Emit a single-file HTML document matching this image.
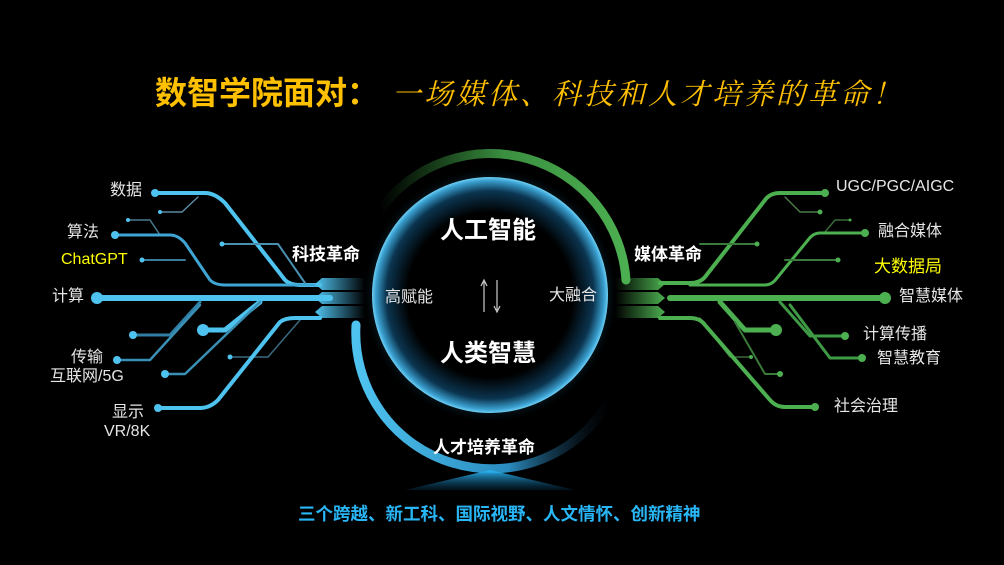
<!DOCTYPE html>
<html><head><meta charset="utf-8"><style>
html,body{margin:0;padding:0;background:#000;}
body{width:1004px;height:565px;overflow:hidden;position:relative;font-family:"Liberation Sans","Noto Sans CJK SC",sans-serif;}
.t{position:absolute;white-space:nowrap;color:#e6e6e6;font-size:16px;line-height:1;}
.y{color:#ffff00;}
.b{font-weight:bold;color:#fff;}
</style></head><body>
<svg width="1004" height="565" style="position:absolute;left:0;top:0">
<defs>
<radialGradient id="core" cx="50%" cy="50%" r="50%">
<stop offset="0.7" stop-color="#000"/>
<stop offset="0.88" stop-color="#0b3550"/>
<stop offset="0.97" stop-color="#3aa0d0"/>
<stop offset="1" stop-color="#6fd0f5"/>
</radialGradient>
<radialGradient id="halo" cx="50%" cy="50%" r="50%">
<stop offset="0.85" stop-color="#1a6a90" stop-opacity="0.6"/>
<stop offset="1" stop-color="#000" stop-opacity="0"/>
</radialGradient>
<linearGradient id="lfade" x1="0" x2="1"><stop offset="0" stop-color="#4fc3f0"/><stop offset="1" stop-color="#4fc3f0" stop-opacity="0"/></linearGradient>
<linearGradient id="rfade" x1="1" x2="0"><stop offset="0" stop-color="#4caf50"/><stop offset="1" stop-color="#4caf50" stop-opacity="0"/></linearGradient>
<linearGradient id="tri" x1="0" y1="0" x2="0" y2="1"><stop offset="0" stop-color="#29b6f6"/><stop offset="1" stop-color="#0a3a5a" stop-opacity="0.3"/></linearGradient>
<linearGradient id="garc" x1="0" y1="0" x2="1" y2="0"><stop offset="0" stop-color="#2e7d32" stop-opacity="0"/><stop offset="0.5" stop-color="#3a8f40"/><stop offset="1" stop-color="#4caf50"/></linearGradient>
<linearGradient id="barc" x1="0" y1="0" x2="1" y2="0"><stop offset="0" stop-color="#4fc3f0"/><stop offset="0.6" stop-color="#2a8cc0"/><stop offset="1" stop-color="#123" stop-opacity="0"/></linearGradient>
</defs>
<circle cx="490" cy="295" r="128" fill="url(#halo)"/>
<circle cx="490" cy="295" r="118" fill="url(#core)"/>
<path d="M380 210 A136 136 0 0 1 626 280" fill="none" stroke="url(#garc)" stroke-width="9" stroke-linecap="round"/>
<path d="M356 325 A136 136 0 0 0 610 400" fill="none" stroke="url(#barc)" stroke-width="9" stroke-linecap="round"/>
<g fill="none" stroke-linecap="round" stroke-linejoin="round">
<path d="M155 193 H205 Q215 193 225 203 L285 280 Q290 285 300 285 H320" stroke="#4fc3f0" stroke-width="4"/>
<path d="M160 212 H182 L198 197" stroke="#5a8aa0" stroke-width="1.5"/>
<path d="M128 220 H150 L160 235" stroke="#4a7a90" stroke-width="1.5"/>
<path d="M115 235 H170 Q178 235 185 243 L210 280 Q215 285 225 285 H320" stroke="#3fa5d5" stroke-width="3"/>
<path d="M142 260 H185" stroke="#3a7a9a" stroke-width="2"/>
<path d="M222 244 H278 L305 283" stroke="#4a8fb0" stroke-width="2"/>
<path d="M97 298 H330" stroke="#4fc3f0" stroke-width="6"/>
<path d="M133 335 H170 L200 302" stroke="#2f7fa5" stroke-width="3"/>
<path d="M117 360 H150 L200 305" stroke="#3a8fb5" stroke-width="2.5"/>
<path d="M203 330 H225 L260 302" stroke="#4fc3f0" stroke-width="5"/>
<path d="M165 374 H185 L260 302" stroke="#3a8fb5" stroke-width="2.5"/>
<path d="M230 357 H268 L300 320" stroke="#3a6a80" stroke-width="1.5"/>
<path d="M158 408 H200 Q210 408 218 400 L280 322 Q285 318 295 318 H320" stroke="#4fc3f0" stroke-width="4"/>
</g>
<g fill="#4fc3f0">
<circle cx="155" cy="193" r="4"/><circle cx="160" cy="212" r="2"/><circle cx="128" cy="220" r="2"/><circle cx="115" cy="235" r="4"/><circle cx="142" cy="260" r="2.5"/><circle cx="222" cy="244" r="2.5"/><circle cx="97" cy="298" r="6"/><circle cx="133" cy="335" r="4"/><circle cx="117" cy="360" r="4"/><circle cx="203" cy="330" r="6"/><circle cx="165" cy="374" r="4"/><circle cx="230" cy="357" r="2.5"/><circle cx="158" cy="408" r="4"/>
</g>
<g fill="url(#lfade)">
<path d="M315 284 L322 278 H365 V290 H322 Z"/>
<path d="M315 298 L322 292 H365 V304 H322 Z"/>
<path d="M315 312 L322 306 H365 V318 H322 Z"/>
</g>
<g fill="none" stroke-linecap="round" stroke-linejoin="round">
<path d="M660 283 H690 Q700 283 705 277 L765 200 Q770 193 780 193 H825" stroke="#4caf50" stroke-width="4"/>
<path d="M785 197 L800 212 H820" stroke="#4a7a4a" stroke-width="1.5"/>
<path d="M850 220 H835 L825 232" stroke="#3a6a3a" stroke-width="1.5"/>
<path d="M690 285 H765 Q772 285 777 278 L808 240 Q813 233 820 233 H865" stroke="#4caf50" stroke-width="3"/>
<path d="M785 260 H838" stroke="#3a7a3a" stroke-width="2"/>
<path d="M700 244 H757" stroke="#3a7a3a" stroke-width="2"/>
<path d="M670 298 H885" stroke="#4caf50" stroke-width="6"/>
<path d="M720 302 L745 330 H776" stroke="#4caf50" stroke-width="5"/>
<path d="M780 302 L810 336 H845" stroke="#3f9a45" stroke-width="3"/>
<path d="M790 305 L830 358 H862" stroke="#3f9a45" stroke-width="3"/>
<path d="M700 318 L730 357 H751" stroke="#3a6a3a" stroke-width="1.5"/>
<path d="M735 322 L765 374 H780" stroke="#3a7a3a" stroke-width="2"/>
<path d="M660 318 H690 Q700 318 705 325 L770 400 Q776 407 785 407 H815" stroke="#4caf50" stroke-width="4"/>
</g>
<g fill="#4caf50">
<circle cx="825" cy="193" r="4"/><circle cx="820" cy="212" r="2.5"/><circle cx="850" cy="220" r="1.5"/><circle cx="865" cy="233" r="4"/><circle cx="838" cy="260" r="2.5"/><circle cx="757" cy="244" r="2.5"/><circle cx="885" cy="298" r="6"/><circle cx="776" cy="330" r="6"/><circle cx="845" cy="336" r="4"/><circle cx="862" cy="358" r="4"/><circle cx="751" cy="357" r="2"/><circle cx="780" cy="374" r="3"/><circle cx="815" cy="407" r="4"/>
</g>
<g fill="url(#rfade)">
<path d="M665 284 L658 278 H615 V290 H658 Z"/>
<path d="M665 298 L658 292 H615 V304 H658 Z"/>
<path d="M665 312 L658 306 H615 V318 H658 Z"/>
</g>
<path d="M484 312 V282 M481 286 L484 280 L487 286" stroke="#ccc" stroke-width="1.2" fill="none"/>
<path d="M497 280 V310 M494 306 L497 312 L500 306" stroke="#ccc" stroke-width="1.2" fill="none"/>
<path d="M405 490 L490 470 L575 490 Z" fill="url(#tri)"/>
</svg>
<div class="t" style="left:155px;top:77px;font-size:32px;font-weight:bold;color:#ffc000;">数智学院面对：</div>
<div class="t" style="left:392px;top:78px;font-size:29px;color:#ffc000;font-style:italic;letter-spacing:3px;font-family:'Noto Serif CJK SC',serif">一场媒体、科技和人才培养的革命！</div>
<div class="t" style="left:110px;top:183px">数据</div>
<div class="t" style="left:67px;top:225px">算法</div>
<div class="t y" style="left:61px;top:252px">ChatGPT</div>
<div class="t" style="left:52px;top:289px">计算</div>
<div class="t" style="left:71px;top:350px">传输</div>
<div class="t" style="left:50px;top:369px">互联网/5G</div>
<div class="t" style="left:112px;top:405px">显示</div>
<div class="t" style="left:104px;top:424px">VR/8K</div>
<div class="t b" style="left:292px;top:246px;font-size:17px">科技革命</div>
<div class="t b" style="left:634px;top:246px;font-size:17px">媒体革命</div>
<div class="t" style="left:836px;top:179px">UGC/PGC/AIGC</div>
<div class="t" style="left:878px;top:224px">融合媒体</div>
<div class="t y" style="left:874px;top:258px;font-size:17px">大数据局</div>
<div class="t" style="left:899px;top:289px">智慧媒体</div>
<div class="t" style="left:863px;top:327px">计算传播</div>
<div class="t" style="left:877px;top:351px">智慧教育</div>
<div class="t" style="left:834px;top:399px">社会治理</div>
<div class="t b" style="left:440px;top:219px;font-size:24px">人工智能</div>
<div class="t b" style="left:440px;top:342px;font-size:24px">人类智慧</div>
<div class="t" style="left:385px;top:290px">高赋能</div>
<div class="t" style="left:549px;top:288px">大融合</div>
<div class="t b" style="left:433px;top:439px;font-size:17px">人才培养革命</div>
<div class="t" style="left:298px;top:506px;font-size:17.5px;font-weight:bold;color:#29b6f6">三个跨越、新工科、国际视野、人文情怀、创新精神</div>
</body></html>
